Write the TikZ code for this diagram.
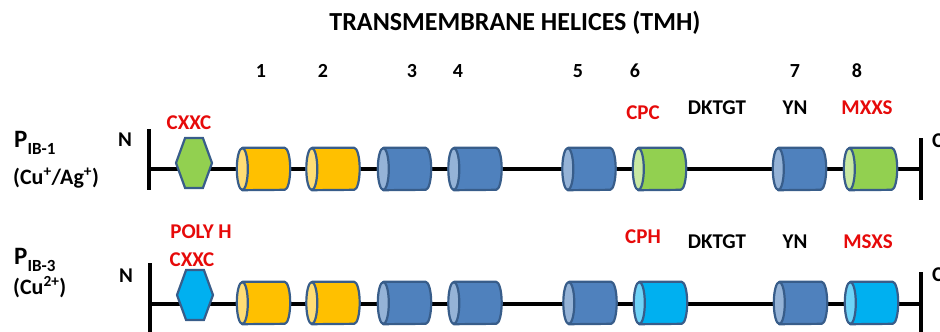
\documentclass[tikz,border=0pt]{standalone}
\usepackage{fontspec}
\setmainfont{Carlito}
\usetikzlibrary{shapes.geometric,shapes.symbols}

\definecolor{edge}{HTML}{385D8A}
\definecolor{orgbody}{HTML}{FFC000}
\definecolor{orgcap}{HTML}{FFDD75}
\definecolor{bluebody}{HTML}{4F81BD}
\definecolor{bluecap}{HTML}{95B3D7}
\definecolor{grnbody}{HTML}{92D050}
\definecolor{grncap}{HTML}{C8E8A2}
\definecolor{cyanbody}{HTML}{00B0F0}
\definecolor{cyancap}{HTML}{6FD3F7}
\definecolor{motif}{RGB}{230,10,10}

\tikzset{
  helixbox/.style={rectangle, minimum width=53pt, minimum height=42pt, inner sep=0pt},
  helixline/.style={draw=edge, line width=2.2pt, line join=round},
  domain/.style={signal, signal to=west and east, signal pointer angle=140,
    draw=edge, line width=2.2pt, fill=#1, minimum width=36pt, minimum height=50pt, inner sep=0pt},
  backbone/.style={line width=3.5pt, black},
  bar/.style={line width=3.5pt, black},
  lbl/.style={font=\bfseries\fontsize{21}{21}\selectfont, inner sep=0pt},
  red lbl/.style={lbl, text=motif},
  num/.style={font=\bfseries\fontsize{20}{20}\selectfont, inner sep=0pt},
}

% a horizontal cylinder (one helix): name, x, y, body colour, end-cap colour
\newcommand\helixat[5]{%
  \node[helixbox] (#1) at (#2,#3) {};
  \path[helixline, fill=#4] ([xshift=5.5pt]#1.north west) -- ([xshift=-5.5pt]#1.north east)
    arc[start angle=90, end angle=-90, x radius=5.5pt, y radius=21pt]
    -- ([xshift=5.5pt]#1.south west) -- cycle;
  \path[helixline, fill=#5] ([xshift=5.5pt]#1.west) ellipse [x radius=5.5pt, y radius=21pt];
}

\begin{document}
\begin{tikzpicture}[x=1pt, y=-1pt]
\useasboundingbox (0,0) rectangle (940,332);

% heading and helix numbers
\node[font=\bfseries\fontsize{26}{26}\selectfont, inner sep=0pt] (title) at (515,23) {TRANSMEMBRANE HELICES (TMH)};
\foreach \n/\x in {1/261,2/323,3/412,4/458,5/578,6/635,7/795,8/857}
  \node[num] (num\n) at (\x,71) {\n};

% ---------- P_IB-1 ----------
\node[anchor=base west, inner sep=0pt, font=\bfseries] (fam1) at (14,147)
  {{\fontsize{25}{25}\selectfont P}{\fontsize{17}{17}\selectfont\raisebox{-7pt}{IB-1}}};
\node[anchor=base west, inner sep=0pt, font=\bfseries\fontsize{22}{22}\selectfont] (ion1) at (13,184)
  {(Cu\textsuperscript{+}/Ag\textsuperscript{+})};
\node[lbl] (n1) at (125,140) {N};
\node[lbl, anchor=west] (c1) at (932,141) {C};

\coordinate (l1) at (149,169);
\coordinate (r1) at (921,169);
\draw[bar] (149,129) -- (149,190);
\draw[bar] (921,138) -- (921,200);
\draw[backbone] (l1) -- (r1);

\node[domain=grnbody] (hex1) at (194,163) {};
\helixat{a1}{263.5}{169}{orgbody}{orgcap}
\helixat{a2}{333}{169}{orgbody}{orgcap}
\helixat{a3}{404.5}{169}{bluebody}{bluecap}
\helixat{a4}{475}{169}{bluebody}{bluecap}
\helixat{a5}{589}{169}{bluebody}{bluecap}
\helixat{a6}{659.5}{169}{grnbody}{grncap}
\helixat{a7}{799.5}{169}{bluebody}{bluecap}
\helixat{a8}{870.5}{169}{grnbody}{grncap}

\node[red lbl] (m1a) at (189,123) {CXXC};
\node[red lbl] (m1b) at (643,113) {CPC};
\node[lbl] (m1c) at (717,108) {DKTGT};
\node[lbl] (m1d) at (795,108) {YN};
\node[red lbl] (m1e) at (867,108) {MXXS};

% ---------- P_IB-3 ----------
\node[anchor=base west, inner sep=0pt, font=\bfseries] (fam3) at (14,264)
  {{\fontsize{25}{25}\selectfont P}{\fontsize{17}{17}\selectfont\raisebox{-7pt}{IB-3}}};
\node[anchor=base west, inner sep=0pt, font=\bfseries\fontsize{22}{22}\selectfont] (ion3) at (13,294)
  {(Cu\textsuperscript{2+})};
\node[lbl] (n3) at (126,276) {N};
\node[lbl, anchor=west] (c3) at (932,275) {C};

\coordinate (l3) at (150,304);
\coordinate (r3) at (921,304);
\draw[bar] (150,263) -- (150,336);
\draw[bar] (921,272) -- (921,336);
\draw[backbone] (l3) -- (r3);

\node[domain=cyanbody] (hex3) at (195,295) {};
\helixat{b1}{263.5}{303}{orgbody}{orgcap}
\helixat{b2}{333}{303}{orgbody}{orgcap}
\helixat{b3}{404.5}{303}{bluebody}{bluecap}
\helixat{b4}{475}{303}{bluebody}{bluecap}
\helixat{b5}{590}{303}{bluebody}{bluecap}
\helixat{b6}{660.5}{303}{cyanbody}{cyancap}
\helixat{b7}{800.5}{303}{bluebody}{bluecap}
\helixat{b8}{871.5}{303}{cyanbody}{cyancap}

\node[red lbl] (m3a) at (201,232) {POLY H};
\node[red lbl] (m3b) at (192,260) {CXXC};
\node[red lbl] (m3c) at (643,237) {CPH};
\node[lbl] (m3d) at (717,242) {DKTGT};
\node[lbl] (m3e) at (795,242) {YN};
\node[red lbl] (m3f) at (868,242) {MSXS};
\end{tikzpicture}
\end{document}
